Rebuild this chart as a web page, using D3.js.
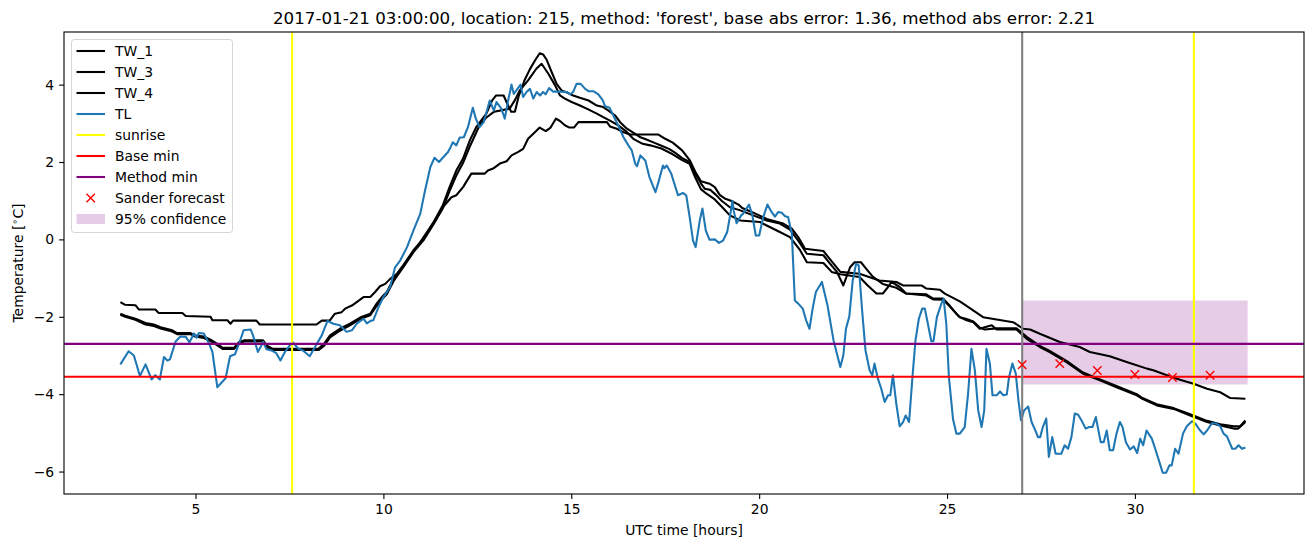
<!DOCTYPE html>
<html>
<head>
<meta charset="utf-8">
<script src="https://cdn.jsdelivr.net/npm/d3@7"></script>
<style>
  body { margin: 0; background: #fff; }
  text { font-family: "DejaVu Sans", sans-serif; }
</style>
</head>
<body>
<svg id="chart"></svg>
<script>
// Figure size and axes box (matplotlib-like layout)
const width = 1313;
const height = 547;
const margin = { top: 32, right: 9, bottom: 53, left: 64 };
const lw = 2.08; // 1.5pt at 100 dpi

const titleText = "2017-01-21 03:00:00, location: 215, method: 'forest', base abs error: 1.36, method abs error: 2.21";
const xLabel = "UTC time [hours]";

const xTicks = [5, 10, 15, 20, 25, 30];
const yTicks = [-6, -4, -2, 0, 2, 4];
const xLimits = [1.5, 34.5];
const yLimits = [-6.58, 5.36];

const legendLabels = ["TW_1", "TW_3", "TW_4", "TL", "sunrise", "Base min", "Method min", "Sander forecast", "95% confidence"];

// [hour, temperature]
const tw1 = [
  [3.0,-1.92],[3.13,-1.97],[3.4,-2.05],[3.67,-2.16],[3.89,-2.2],[4.07,-2.27],[4.38,-2.35],[4.51,-2.42],
  [4.87,-2.42],[4.96,-2.48],[5.22,-2.51],[5.4,-2.59],[5.58,-2.7],[5.72,-2.8],[6.03,-2.8],[6.16,-2.65],
  [6.29,-2.61],[6.8,-2.61],[6.89,-2.74],[7.06,-2.83],[8.27,-2.83],[8.42,-2.7],[8.58,-2.48],[8.84,-2.31],
  [9.11,-2.18],[9.38,-2.02],[9.65,-1.92],[9.82,-1.66],[9.96,-1.49],[10.09,-1.36],[10.27,-1.02],[10.53,-0.67],
  [10.8,-0.28],[11.07,0.02],[11.34,0.45],[11.58,0.88],[11.76,1.35],[11.94,1.78],[12.12,2.09],[12.3,2.56],
  [12.47,2.9],[12.74,3.25],[12.9,3.6],[13.0,3.72],[13.2,3.72],[13.3,3.5],[13.4,3.3],[13.5,3.3],[13.6,3.7],
  [13.75,4.1],[13.9,4.4],[14.05,4.65],[14.16,4.81],[14.25,4.78],[14.34,4.65],[14.48,4.32],[14.61,4.02],
  [14.74,3.85],[14.92,3.78],[15.05,3.72],[15.23,3.66],[15.46,3.59],[15.68,3.46],[15.85,3.42],[15.99,3.33],
  [16.17,3.2],[16.3,3.03],[16.48,2.86],[16.66,2.75],[16.84,2.64],[17.0,2.58],[17.2,2.5],[17.4,2.42],
  [17.6,2.34],[17.75,2.25],[17.95,2.1],[18.15,2.0],[18.3,1.7],[18.45,1.45],[18.55,1.31],[18.7,1.28],
  [18.85,1.15],[19.0,1.0],[19.22,0.83],[19.5,0.75],[19.84,0.62],[20.2,0.49],[20.55,0.41],[20.82,0.25],
  [21.04,-0.03],[21.27,-0.37],[21.71,-0.41],[21.89,-0.63],[22.07,-0.84],[22.24,-1.19],[22.42,-0.72],
  [22.54,-0.59],[22.71,-0.59],[22.85,-0.76],[23.03,-0.97],[23.29,-1.15],[23.65,-1.25],[23.91,-1.4],
  [24.45,-1.45],[24.63,-1.55],[24.9,-1.56],[25.07,-1.73],[25.25,-1.92],[25.34,-2.01],[25.52,-2.09],
  [25.7,-2.14],[25.87,-2.31],[26.19,-2.22],[26.32,-2.33],[26.85,-2.33],[27.12,-2.57],[27.47,-2.78],
  [27.73,-2.91],[28.18,-3.17],[28.62,-3.47],[29.07,-3.64],[29.51,-3.82],[30.05,-4.03],[30.2,-4.12],
  [30.58,-4.29],[31.03,-4.38],[31.47,-4.55],[31.92,-4.72],[32.27,-4.81],[32.63,-4.89],[32.75,-4.89],[32.94,-4.72]
];

const tw3 = [
  [3.0,-1.95],[3.13,-2.0],[3.4,-2.08],[3.67,-2.2],[3.89,-2.24],[4.07,-2.3],[4.38,-2.38],[4.51,-2.45],
  [4.87,-2.45],[4.96,-2.5],[5.22,-2.55],[5.4,-2.63],[5.58,-2.74],[5.72,-2.83],[6.03,-2.83],[6.16,-2.7],
  [6.29,-2.64],[6.8,-2.64],[6.89,-2.78],[7.06,-2.86],[8.27,-2.86],[8.42,-2.75],[8.58,-2.53],[8.84,-2.36],
  [9.11,-2.22],[9.38,-2.06],[9.65,-1.96],[9.82,-1.72],[9.96,-1.55],[10.09,-1.42],[10.27,-1.08],[10.53,-0.72],
  [10.8,-0.33],[11.07,-0.02],[11.34,0.4],[11.58,0.8],[11.76,1.25],[11.94,1.65],[12.12,1.98],[12.3,2.4],
  [12.56,2.95],[12.74,3.15],[12.95,3.3],[13.36,3.38],[13.5,3.6],[13.63,3.85],[13.85,4.11],[14.07,4.41],
  [14.21,4.54],[14.39,4.28],[14.57,3.98],[14.7,3.72],[14.83,3.64],[15.01,3.55],[15.23,3.46],[15.41,3.38],
  [15.68,3.25],[15.85,3.16],[16.03,3.07],[16.25,2.95],[16.45,2.8],[16.65,2.6],[16.9,2.47],[17.1,2.43],
  [17.4,2.35],[17.7,2.2],[17.95,2.05],[18.15,1.95],[18.3,1.6],[18.45,1.3],[18.6,1.18],[18.8,1.05],
  [19.0,0.85],[19.22,0.62],[19.5,0.49],[20.02,0.45],[20.2,0.36],[20.55,0.19],[20.82,0.06],[21.09,-0.28],
  [21.27,-0.59],[21.71,-0.61],[21.93,-0.84],[22.16,-0.9],[22.67,-0.97],[22.89,-1.19],[23.12,-1.4],
  [23.29,-1.4],[23.43,-1.23],[23.52,-1.1],[23.74,-1.23],[23.91,-1.4],[24.45,-1.42],[24.63,-1.53],
  [24.89,-1.53],[25.07,-1.71],[25.25,-1.92],[25.34,-2.01],[25.52,-2.06],[25.7,-2.12],[25.87,-2.28],
  [26.0,-2.33],[26.32,-2.3],[26.85,-2.3],[27.12,-2.52],[27.47,-2.75],[27.73,-2.88],[28.18,-3.14],
  [28.62,-3.44],[29.07,-3.62],[29.51,-3.79],[30.05,-4.0],[30.2,-4.1],[30.58,-4.26],[31.03,-4.36],
  [31.47,-4.52],[31.92,-4.69],[32.27,-4.78],[32.63,-4.83],[32.8,-4.83],[32.94,-4.68]
];

const tw4 = [
  [3.0,-1.62],[3.13,-1.69],[3.4,-1.7],[3.49,-1.81],[3.93,-1.81],[4.02,-1.9],[4.65,-1.9],[4.74,-1.98],
  [5.4,-2.0],[5.45,-2.09],[5.85,-2.09],[5.93,-2.18],[6.0,-2.1],[6.62,-2.1],[6.71,-2.2],[8.22,-2.2],
  [8.36,-2.1],[8.57,-2.1],[8.71,-1.92],[8.89,-1.88],[8.98,-1.79],[9.16,-1.71],[9.29,-1.62],[9.47,-1.49],
  [9.65,-1.49],[9.78,-1.36],[9.91,-1.21],[10.05,-1.15],[10.18,-1.02],[10.36,-0.89],[10.63,-0.54],
  [10.98,-0.07],[11.34,0.45],[11.58,0.83],[11.81,1.09],[11.94,1.14],[12.12,1.35],[12.34,1.7],[12.7,1.7],
  [12.78,1.78],[12.92,1.83],[13.1,1.96],[13.28,2.02],[13.41,2.17],[13.59,2.26],[13.72,2.34],[13.85,2.6],
  [13.99,2.73],[14.16,2.89],[14.32,2.8],[14.45,2.89],[14.59,3.12],[14.7,3.06],[14.83,2.95],[14.95,2.89],
  [15.07,2.89],[15.19,3.03],[15.95,3.03],[16.03,2.92],[16.21,2.86],[16.39,2.77],[16.57,2.71],[17.32,2.71],
  [17.5,2.6],[17.7,2.5],[17.95,2.3],[18.15,2.05],[18.3,1.75],[18.45,1.5],[18.68,1.44],[18.82,1.35],
  [18.95,1.15],[19.1,1.05],[19.25,1.0],[19.45,0.9],[19.55,0.81],[19.8,0.71],[20.2,0.53],[20.64,0.41],
  [20.87,0.28],[21.04,0.06],[21.22,-0.24],[21.71,-0.3],[21.84,-0.46],[22.16,-0.84],[22.67,-0.89],
  [23.2,-1.06],[23.65,-1.1],[23.83,-1.19],[24.32,-1.19],[24.45,-1.27],[24.81,-1.3],[24.94,-1.4],
  [25.34,-1.6],[25.43,-1.66],[25.96,-2.01],[26.76,-2.14],[27.03,-2.31],[27.21,-2.33],[27.47,-2.44],
  [28.0,-2.65],[28.53,-2.78],[28.8,-2.91],[29.33,-3.02],[29.78,-3.17],[30.32,-3.34],[30.49,-3.38],
  [30.85,-3.51],[31.2,-3.63],[31.56,-3.73],[31.92,-3.86],[32.27,-3.95],[32.54,-4.1],[32.94,-4.12]
];

const tl = [
  [3.0,-3.23],[3.22,-2.89],[3.36,-3.0],[3.52,-3.53],[3.67,-3.23],[3.83,-3.62],[3.93,-3.51],[4.05,-3.62],
  [4.16,-3.04],[4.25,-3.13],[4.32,-3.1],[4.47,-2.64],[4.6,-2.51],[4.74,-2.52],[4.84,-2.66],[4.96,-2.43],
  [5.03,-2.54],[5.09,-2.42],[5.22,-2.43],[5.36,-2.69],[5.45,-2.91],[5.58,-3.82],[5.8,-3.59],[5.92,-3.02],
  [6.05,-2.97],[6.16,-2.69],[6.28,-2.35],[6.47,-2.33],[6.53,-2.48],[6.66,-2.91],[6.8,-2.65],[6.89,-2.84],
  [7.02,-2.87],[7.15,-2.94],[7.26,-3.13],[7.38,-2.91],[7.58,-2.65],[7.73,-2.82],[7.86,-2.87],[8.04,-3.02],
  [8.18,-2.78],[8.36,-2.48],[8.51,-2.11],[8.67,-2.18],[8.84,-2.22],[9.02,-2.39],[9.16,-2.35],[9.29,-2.18],
  [9.47,-2.05],[9.56,-2.17],[9.65,-2.11],[9.73,-2.09],[9.87,-1.75],[10.0,-1.49],[10.18,-1.23],[10.31,-0.72],
  [10.45,-0.54],[10.63,-0.2],[10.8,0.23],[10.98,0.66],[11.11,1.27],[11.25,1.87],[11.36,2.11],[11.48,2.0],
  [11.58,2.11],[11.72,2.26],[11.79,2.39],[11.85,2.51],[11.94,2.43],[12.03,2.63],[12.14,2.64],[12.25,2.9],
  [12.38,3.4],[12.46,3.12],[12.56,2.9],[12.67,3.03],[12.83,3.59],[12.94,3.33],[13.01,3.55],[13.14,3.38],
  [13.23,3.12],[13.32,3.59],[13.41,4.0],[13.47,3.76],[13.54,3.85],[13.65,4.0],[13.72,3.68],[13.81,3.81],
  [13.9,3.89],[13.99,3.64],[14.08,3.81],[14.17,3.72],[14.25,3.81],[14.32,3.75],[14.41,3.91],[14.52,3.82],
  [14.7,3.82],[14.88,3.81],[14.97,3.75],[15.05,3.81],[15.14,4.02],[15.25,4.02],[15.37,3.89],[15.46,3.83],
  [15.59,3.83],[15.72,3.75],[15.84,3.59],[15.9,3.44],[16.02,3.4],[16.12,3.2],[16.26,2.92],[16.39,2.64],
  [16.52,2.43],[16.61,2.3],[16.7,1.96],[16.75,1.89],[16.84,2.17],[16.97,2.04],[17.08,1.61],[17.24,1.22],
  [17.32,1.48],[17.44,1.91],[17.48,1.84],[17.54,1.91],[17.66,1.7],[17.84,1.14],[17.97,1.2],[18.06,1.14],
  [18.15,0.58],[18.24,-0.03],[18.31,-0.2],[18.42,0.49],[18.49,0.8],[18.58,0.23],[18.68,-0.01],[18.82,0.0],
  [18.93,-0.09],[19.04,-0.03],[19.15,0.19],[19.22,0.58],[19.29,0.99],[19.32,0.75],[19.4,0.42],[19.52,0.62],
  [19.57,0.66],[19.73,0.9],[19.82,0.62],[19.91,0.1],[20.0,0.1],[20.11,0.58],[20.22,0.9],[20.33,0.71],
  [20.42,0.59],[20.51,0.71],[20.6,0.69],[20.69,0.6],[20.77,0.58],[20.87,0.15],[20.95,-1.58],[21.04,-1.66],
  [21.16,-1.79],[21.25,-2.09],[21.34,-2.31],[21.43,-1.75],[21.51,-1.36],[21.67,-1.1],[21.82,-1.71],
  [21.98,-2.61],[22.16,-3.3],[22.24,-3.0],[22.31,-2.31],[22.4,-1.99],[22.49,-1.06],[22.58,-0.63],
  [22.65,-0.67],[22.74,-1.83],[22.83,-2.87],[22.94,-3.38],[23.01,-3.51],[23.07,-3.21],[23.16,-3.6],
  [23.25,-3.86],[23.34,-4.2],[23.43,-4.03],[23.49,-4.03],[23.56,-3.51],[23.65,-4.25],[23.74,-4.83],
  [23.83,-4.72],[23.9,-4.55],[23.99,-4.72],[24.08,-3.56],[24.16,-2.61],[24.25,-2.05],[24.34,-1.79],
  [24.41,-1.79],[24.49,-2.18],[24.58,-2.63],[24.64,-2.63],[24.73,-2.01],[24.85,-1.66],[24.91,-1.53],
  [24.98,-2.18],[25.05,-3.56],[25.16,-4.65],[25.25,-5.02],[25.34,-5.02],[25.47,-4.85],[25.56,-3.99],
  [25.65,-2.83],[25.74,-3.38],[25.83,-4.42],[25.92,-4.85],[25.99,-4.42],[26.05,-2.83],[26.14,-3.21],
  [26.21,-4.03],[26.32,-4.03],[26.41,-3.93],[26.5,-4.03],[26.59,-4.01],[26.65,-3.56],[26.74,-3.21],
  [26.83,-3.47],[26.9,-4.16],[26.97,-4.68],[27.05,-4.42],[27.16,-4.32],[27.25,-4.72],[27.37,-4.98],
  [27.42,-5.11],[27.48,-5.11],[27.55,-4.85],[27.64,-4.63],[27.71,-5.62],[27.8,-5.11],[27.89,-5.54],
  [28.04,-5.54],[28.13,-5.32],[28.22,-5.41],[28.31,-5.11],[28.4,-4.5],[28.49,-4.53],[28.58,-4.68],
  [28.69,-4.89],[28.78,-4.85],[28.87,-4.85],[28.96,-4.59],[29.02,-4.89],[29.09,-5.24],[29.17,-5.24],
  [29.25,-4.94],[29.33,-5.45],[29.42,-5.45],[29.51,-5.02],[29.6,-4.72],[29.67,-4.85],[29.76,-5.24],
  [29.87,-5.43],[29.97,-5.35],[30.06,-5.52],[30.14,-5.15],[30.22,-5.32],[30.31,-4.94],[30.45,-5.15],
  [30.54,-5.41],[30.65,-5.75],[30.74,-6.03],[30.83,-6.03],[30.92,-5.84],[30.98,-5.84],[31.07,-5.41],
  [31.16,-5.54],[31.28,-5.02],[31.38,-4.83],[31.52,-4.7],[31.61,-4.76],[31.72,-4.92],[31.83,-5.04],
  [31.92,-4.94],[32.05,-4.75],[32.17,-4.76],[32.27,-4.83],[32.36,-5.02],[32.45,-5.09],[32.59,-5.41],
  [32.67,-5.41],[32.76,-5.32],[32.85,-5.41],[32.94,-5.38]
];

const sunriseHours = [7.57, 31.57];
const forecastHour = 27;
const baseMin = -3.55;
const methodMin = -2.70;
const forecastHours = [27, 28, 29, 30, 31, 32];
const forecastValues = [-3.24, -3.21, -3.39, -3.49, -3.57, -3.51];
const confidenceHours = [27, 33];
const confidenceRange = [-3.75, -1.58];

const svg = d3.select("#chart").attr("width", width).attr("height", height);

const x = d3.scaleLinear().domain(xLimits).range([margin.left, width - margin.right]);
const y = d3.scaleLinear().domain(yLimits).range([height - margin.bottom, margin.top]);

const plot = svg.append("g");

// 95% confidence band (patch, drawn under the lines)
plot.append("rect")
  .attr("x", x(confidenceHours[0]))
  .attr("width", x(confidenceHours[1]) - x(confidenceHours[0]))
  .attr("y", y(confidenceRange[1]))
  .attr("height", y(confidenceRange[0]) - y(confidenceRange[1]))
  .attr("fill", "purple")
  .attr("fill-opacity", 0.2);

const line = d3.line().x((d) => x(d[0])).y((d) => y(d[1]));

[tw1, tw3, tw4].forEach((series) => {
  plot.append("path")
    .attr("d", line(series))
    .attr("fill", "none")
    .attr("stroke", "black")
    .attr("stroke-width", lw)
    .attr("stroke-linejoin", "round");
});

plot.append("path")
  .attr("d", line(tl))
  .attr("fill", "none")
  .attr("stroke", "#1f77b4")
  .attr("stroke-width", lw)
  .attr("stroke-linejoin", "round");

// sunrise
plot.selectAll("line.sunrise")
  .data(sunriseHours)
  .enter()
  .append("line")
  .attr("class", "sunrise")
  .attr("x1", (d) => x(d))
  .attr("x2", (d) => x(d))
  .attr("y1", margin.top)
  .attr("y2", height - margin.bottom)
  .attr("stroke", "yellow")
  .attr("stroke-width", lw);

// base / method minimum
[[baseMin, "red"], [methodMin, "purple"]].forEach(([v, c]) => {
  plot.append("line")
    .attr("x1", margin.left)
    .attr("x2", width - margin.right)
    .attr("y1", y(v))
    .attr("y2", y(v))
    .attr("stroke", c)
    .attr("stroke-width", lw);
});

// forecast time
plot.append("line")
  .attr("x1", x(forecastHour))
  .attr("x2", x(forecastHour))
  .attr("y1", margin.top)
  .attr("y2", height - margin.bottom)
  .attr("stroke", "gray")
  .attr("stroke-width", lw);

const cross = "M-4.2,-4.2L4.2,4.2M-4.2,4.2L4.2,-4.2";
plot.selectAll("path.fc")
  .data(forecastHours)
  .enter()
  .append("path")
  .attr("class", "fc")
  .attr("d", cross)
  .attr("transform", (d, i) => `translate(${x(d)},${y(forecastValues[i])})`)
  .attr("stroke", "red")
  .attr("stroke-width", 1.4)
  .attr("fill", "none");

// axes
const xAxis = svg.append("g")
  .attr("transform", `translate(0,${height - margin.bottom})`)
  .call(d3.axisBottom(x).tickValues(xTicks).tickSize(4.9).tickPadding(4.9).tickSizeOuter(0));
const yAxis = svg.append("g")
  .attr("transform", `translate(${margin.left},0)`)
  .call(d3.axisLeft(y).tickValues(yTicks).tickSize(4.9).tickPadding(4.9).tickSizeOuter(0));

[xAxis, yAxis].forEach((g) => {
  g.select(".domain").remove();
  g.selectAll(".tick line").attr("stroke", "black").attr("stroke-width", 1.1);
  g.selectAll(".tick text").attr("font-size", "13.9px").attr("fill", "black")
    .attr("font-family", "DejaVu Sans");
});

// frame
svg.append("rect")
  .attr("x", margin.left)
  .attr("y", margin.top)
  .attr("width", width - margin.left - margin.right)
  .attr("height", height - margin.top - margin.bottom)
  .attr("fill", "none")
  .attr("stroke", "black")
  .attr("stroke-width", 1.1);

// labels
svg.append("text")
  .attr("x", (margin.left + width - margin.right) / 2)
  .attr("y", 24)
  .attr("text-anchor", "middle")
  .attr("font-size", "16.7px")
  .text(titleText);

svg.append("text")
  .attr("x", (margin.left + width - margin.right) / 2)
  .attr("y", 535)
  .attr("text-anchor", "middle")
  .attr("font-size", "13.9px")
  .text(xLabel);

const yl = svg.append("text")
  .attr("transform", `translate(23,${(margin.top + height - margin.bottom) / 2}) rotate(-90)`)
  .attr("text-anchor", "middle")
  .attr("font-size", "13.9px");
yl.append("tspan").text("Temperature [");
yl.append("tspan").attr("font-size", "9.7px").attr("dy", "-5").text("\u2218");
yl.append("tspan").attr("dy", "5").text("C]");

// legend
const legend = svg.append("g").attr("transform", "translate(71.5,39.5)");
legend.append("rect")
  .attr("width", 161)
  .attr("height", 193)
  .attr("rx", 3)
  .attr("fill", "white")
  .attr("fill-opacity", 0.8)
  .attr("stroke", "#cccccc")
  .attr("stroke-opacity", 0.8);

const legendStyles = [
  { type: "line", color: "black" },
  { type: "line", color: "black" },
  { type: "line", color: "black" },
  { type: "line", color: "#1f77b4" },
  { type: "line", color: "yellow" },
  { type: "line", color: "red" },
  { type: "line", color: "purple" },
  { type: "marker", color: "red" },
  { type: "patch", color: "purple" }
];

const rows = legend.selectAll("g.row")
  .data(legendLabels)
  .enter()
  .append("g")
  .attr("class", "row")
  .attr("transform", (d, i) => `translate(0,${11.5 + i * 21})`);

rows.each(function (d, i) {
  const g = d3.select(this);
  const s = legendStyles[i];
  if (s.type === "line") {
    g.append("line").attr("x1", 5).attr("x2", 33.5).attr("y1", 0).attr("y2", 0)
      .attr("stroke", s.color).attr("stroke-width", lw);
  } else if (s.type === "marker") {
    g.append("path").attr("d", cross).attr("transform", "translate(19.2,0)")
      .attr("stroke", s.color).attr("stroke-width", 1.4).attr("fill", "none");
  } else {
    g.append("rect").attr("x", 5).attr("y", -5).attr("width", 28.5).attr("height", 10)
      .attr("fill", s.color).attr("fill-opacity", 0.2);
  }
  g.append("text").attr("x", 43.5).attr("y", 0).attr("dy", "0.36em")
    .attr("font-size", "13.9px").text(d);
});
</script>
</body>
</html>
